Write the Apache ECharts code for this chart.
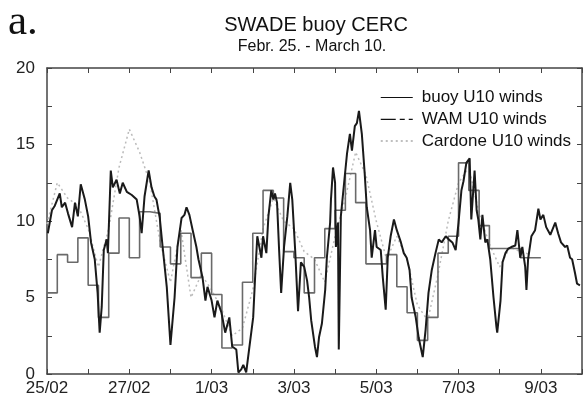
<!DOCTYPE html>
<html>
<head>
<meta charset="utf-8">
<script src="https://cdn.jsdelivr.net/npm/echarts@6/dist/echarts.min.js"></script>
<style>html,body{margin:0;padding:0;background:#fff}#c{width:585px;height:406px}</style>
</head>
<body>
<div id="c"></div>
<script>
// ---- data ----
const tickDays = [0, 2, 4, 6, 8, 10, 12];
const tickLabels = ["25/02", "27/02", "1/03", "3/03", "5/03", "7/03", "9/03"];

const buoyDay = [0.02,0.12,0.19,0.31,0.36,0.44,0.51,0.61,0.68,0.75,0.82,0.92,1.00,1.07,1.16,1.23,1.28,1.33,1.38,1.45,1.48,1.55,1.60,1.69,1.77,1.84,1.94,2.06,2.18,2.25,2.30,2.37,2.47,2.54,2.61,2.66,2.74,2.81,2.91,3.00,3.10,3.17,3.27,3.34,3.39,3.46,3.54,3.63,3.68,3.78,3.85,3.90,4.00,4.07,4.14,4.24,4.33,4.43,4.50,4.60,4.65,4.72,4.77,4.84,4.92,5.01,5.06,5.11,5.21,5.25,5.33,5.38,5.45,5.50,5.54,5.59,5.64,5.69,5.76,5.84,5.91,5.96,6.03,6.10,6.17,6.25,6.32,6.37,6.42,6.51,6.56,6.61,6.68,6.76,6.80,6.88,6.90,6.95,7.00,7.02,7.07,7.09,7.14,7.22,7.29,7.36,7.41,7.48,7.53,7.58,7.65,7.72,7.77,7.85,7.89,7.97,8.01,8.11,8.16,8.23,8.28,8.35,8.43,8.50,8.60,8.67,8.74,8.81,8.86,8.96,9.03,9.13,9.20,9.27,9.35,9.44,9.52,9.59,9.69,9.76,9.85,9.93,10.00,10.07,10.12,10.19,10.27,10.31,10.39,10.44,10.48,10.53,10.58,10.65,10.70,10.77,10.85,10.92,10.94,11.02,11.07,11.14,11.21,11.28,11.38,11.43,11.50,11.55,11.62,11.65,11.69,11.77,11.86,11.94,11.99,12.06,12.13,12.23,12.35,12.42,12.49,12.59,12.64,12.71,12.76,12.83,12.88,12.95];
const buoyU10 = [9.2,10.7,11.0,11.8,10.9,11.2,10.5,9.6,11.2,10.3,12.4,11.4,10.3,8.6,7.5,5.3,2.7,4.4,8.1,8.8,7.9,13.3,12.2,12.7,11.8,12.5,11.9,11.7,11.4,10.3,9.2,11.6,13.3,12.2,11.6,11.4,10.2,8.3,5.7,1.9,5.0,8.3,10.2,10.4,10.9,10.4,9.4,8.3,7.5,6.3,4.8,5.7,4.8,3.7,4.8,4.0,2.7,3.7,1.8,1.6,0.1,0.3,0.6,0.1,1.8,3.7,6.5,9.0,7.6,9.0,7.9,10.3,12.0,11.4,11.8,11.2,8.1,5.3,8.3,10.3,12.5,11.4,8.1,4.1,7.3,7.0,6.1,5.0,3.5,1.8,1.1,2.4,3.3,5.5,7.6,9.9,11.4,13.5,12.5,8.3,9.9,1.6,10.3,12.5,14.4,15.7,14.6,16.2,16.4,17.2,15.7,13.1,10.9,9.4,7.6,9.4,8.3,8.1,6.3,4.2,7.6,9.0,10.1,9.4,8.6,7.9,7.6,6.8,5.0,3.7,2.4,1.1,2.9,5.3,6.8,7.9,8.8,8.6,9.0,8.8,8.6,8.1,9.9,12.0,12.6,13.8,14.1,10.1,13.3,10.7,10.1,8.8,10.4,8.6,8.8,7.5,5.0,3.1,2.7,4.8,7.3,7.9,8.2,8.3,8.4,9.4,7.6,8.3,7.0,5.5,7.5,9.0,9.4,10.8,10.1,10.4,9.6,9.1,9.9,9.2,8.6,8.3,8.4,7.6,7.5,6.6,5.9,5.8];

// 6-hourly model / analysis values, starting 25/02 00:00
const modelStepDays = 0.25;
const wamU10 = [5.3,7.8,7.3,8.9,5.8,3.7,7.9,10.2,7.6,10.6,10.5,8.3,7.2,9.2,6.3,7.9,5.2,1.7,1.9,6.0,9.2,12.0,11.5,8.0,7.6,5.3,7.6,9.5,10.7,13.1,11.2,7.2,7.2,7.8,5.7,4.0,2.2,3.7,7.9,9.0,13.8,12.0,9.7,8.2,8.2,8.2,7.6,7.6];
const cardoneU10 = [9.8,12.5,11.5,11.0,9.5,7.0,9.5,13.5,16.0,14.5,12.5,8.6,6.0,9.5,5.0,6.5,5.5,4.2,2.5,3.0,5.5,9.5,11.5,10.0,9.5,8.0,7.5,6.0,9.0,11.5,14.5,13.0,10.0,7.5,9.0,7.5,4.5,3.5,6.5,10.0,12.5,13.5,10.5,8.5,7.0,8.3,8.0,7.8];

// ---- build ----
const buoyData = buoyDay.map((d, i) => [d, buoyU10[i]]);
const wamData = wamU10.map((v, i) => [i * modelStepDays, v]);
wamData.push([wamU10.length * modelStepDays, wamU10[wamU10.length - 1]]);
const cardoneData = cardoneU10.map((v, i) => [i * modelStepDays, v]);

const FONT = '"Liberation Sans", Arial, Helvetica, sans-serif';
const AX = '#444';

const chart = echarts.init(document.getElementById('c'), null, {renderer: 'canvas'});
const xBase = {
  type: 'value', min: 0, max: 13, interval: 1,
  axisLine: {show: true, onZero: false, lineStyle: {color: AX, width: 1.5}},
  axisTick: {show: true, inside: true, length: 5, lineStyle: {color: AX, width: 1}},
  splitLine: {show: false}
};
const yBase = {
  type: 'value', min: 0, max: 20, interval: 2.5,
  axisLine: {show: true, onZero: false, lineStyle: {color: AX, width: 1.5}},
  axisTick: {show: true, inside: true, length: 5, lineStyle: {color: AX, width: 1}},
  splitLine: {show: false}
};
chart.setOption({
  animation: false,
  backgroundColor: '#ffffff',
  grid: {left: 47, right: 3, top: 68, bottom: 32, containLabel: false},
  xAxis: [
    Object.assign({}, xBase, {
      position: 'bottom',
      axisLabel: {
        fontSize: 17, color: '#222', fontFamily: FONT, margin: 6, hideOverlap: false,
        showMinLabel: true, showMaxLabel: true,
        formatter: v => { const i = tickDays.indexOf(Math.round(v * 100) / 100); return i >= 0 ? tickLabels[i] : ''; }
      }
    }),
    Object.assign({}, xBase, {position: 'top', axisLabel: {show: false}})
  ],
  yAxis: [
    Object.assign({}, yBase, {
      position: 'left',
      axisLabel: {
        fontSize: 17, color: '#222', fontFamily: FONT, margin: 12,
        showMinLabel: true, showMaxLabel: true,
        formatter: v => (Math.abs(v % 5) < 1e-6 ? String(v) : '')
      }
    }),
    Object.assign({}, yBase, {position: 'right', axisLabel: {show: false}})
  ],
  legend: {
    orient: 'vertical', left: 380, top: 89, padding: 0,
    itemWidth: 32, itemHeight: 14, itemGap: 4.8,
    itemStyle: {opacity: 0},
    textStyle: {fontSize: 17, color: '#111', fontFamily: FONT, lineHeight: 17, padding: [0, 0, 0, 4]},
    data: [
      {name: 'buoy U10 winds', itemStyle: {opacity: 0}, lineStyle: {color: '#111', width: 1.2, type: 'solid', opacity: 1}},
      {name: 'WAM U10 winds', itemStyle: {opacity: 0}, lineStyle: {color: '#111', width: 1.2, type: [15, 4, 5, 4], opacity: 1}},
      {name: 'Cardone U10 winds', itemStyle: {opacity: 0}, lineStyle: {color: '#aaa', width: 1.5, type: [2, 3], opacity: 1}}
    ]
  },
  series: [
    {
      name: 'Cardone U10 winds', type: 'line', data: cardoneData, z: 2,
      symbol: 'none', showSymbol: false, smooth: false,
      itemStyle: {color: '#bbbbbb'},
      lineStyle: {color: '#bbbbbb', width: 1.5, type: [2, 3]}
    },
    {
      name: 'WAM U10 winds', type: 'line', data: wamData, z: 3, step: 'end',
      symbol: 'none', showSymbol: false,
      itemStyle: {color: '#6a6a6a'},
      lineStyle: {color: '#6a6a6a', width: 1.6, type: 'solid'}
    },
    {
      name: 'buoy U10 winds', type: 'line', data: buoyData, z: 4,
      symbol: 'none', showSymbol: false,
      itemStyle: {color: '#1a1a1a'},
      lineStyle: {color: '#1a1a1a', width: 2, type: 'solid'}
    }
  ],
  graphic: [
    {type: 'text', left: 8, top: 1, style: {text: 'a.', font: '43px "Liberation Serif", "Times New Roman", serif', fill: '#111'}},
    {type: 'text', x: 316, y: 25, style: {text: 'SWADE buoy CERC', font: '20px ' + FONT, fill: '#111', textAlign: 'center', textVerticalAlign: 'middle'}},
    {type: 'text', x: 312, y: 47, style: {text: 'Febr. 25. - March 10.', font: '16px ' + FONT, fill: '#111', textAlign: 'center', textVerticalAlign: 'middle'}}
  ]
});
</script>
</body>
</html>
